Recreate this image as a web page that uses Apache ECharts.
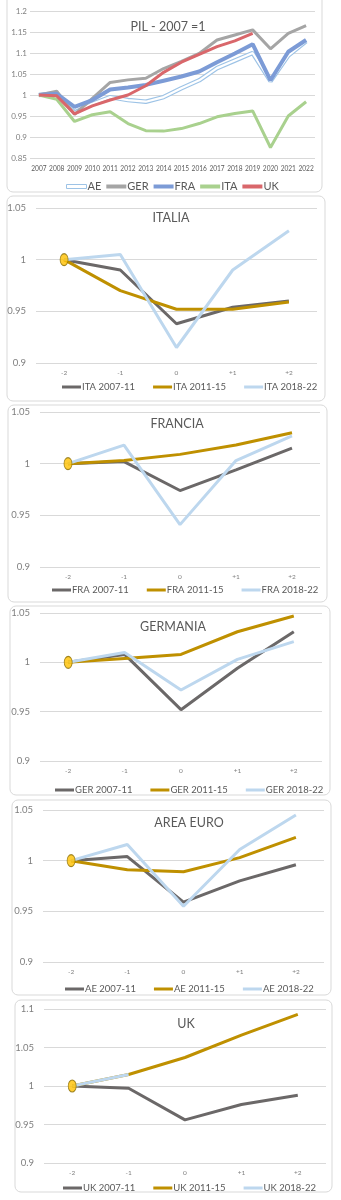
<!DOCTYPE html>
<html>
<head>
<meta charset="utf-8">
<title>PIL - 2007 = 1</title>
<script src="https://cdn.jsdelivr.net/npm/echarts@6/dist/echarts.min.js"></script>
<style>
  html, body { margin: 0; padding: 0; background: #ffffff; }
  #chart { width: 341px; height: 1200px; }
</style>
</head>
<body>
<div id="chart"></div>
<script>
// GDP index, 2007 = 1
const years = ['2007','2008','2009','2010','2011','2012','2013','2014','2015','2016','2017','2018','2019','2020','2021','2022'];
const pilAE  = [1, 1.004, 0.958, 0.979, 0.995, 0.988, 0.984, 0.995, 1.016, 1.035, 1.064, 1.082, 1.100, 1.033, 1.094, 1.128];
const pilGER = [1, 1.009, 0.954, 0.992, 1.030, 1.036, 1.040, 1.063, 1.080, 1.099, 1.131, 1.143, 1.155, 1.110, 1.147, 1.165];
const pilFRA = [1, 1.003, 0.972, 0.988, 1.013, 1.018, 1.024, 1.034, 1.044, 1.056, 1.078, 1.099, 1.121, 1.035, 1.103, 1.131];
const pilITA = [1, 0.990, 0.937, 0.953, 0.960, 0.932, 0.915, 0.914, 0.920, 0.932, 0.948, 0.956, 0.962, 0.875, 0.950, 0.984];
const pilUK  = [1, 0.998, 0.955, 0.974, 0.988, 1.000, 1.022, 1.054, 1.078, 1.097, 1.115, 1.129, 1.147, null, null, null];

// Crisis windows: two years before to two years after the trough year
const phases = ['-2', '-1', '0', '+1', '+2'];

const ita0711 = [1, 0.990, 0.938, 0.954, 0.960];
const ita1115 = [1, 0.970, 0.952, 0.952, 0.959];
const ita1822 = [1, 1.005, 0.915, 0.990, 1.028];

const fra0711 = [1, 1.002, 0.974, 0.994, 1.015];
const fra1115 = [1, 1.003, 1.009, 1.018, 1.030];
const fra1822 = [1, 1.018, 0.941, 1.003, 1.027];

const ger0711 = [1, 1.008, 0.952, 0.994, 1.031];
const ger1115 = [1, 1.004, 1.008, 1.031, 1.047];
const ger1822 = [1, 1.010, 0.972, 1.003, 1.021];

const ae0711 = [1, 1.004, 0.959, 0.980, 0.996];
const ae1115 = [1, 0.991, 0.989, 1.003, 1.023];
const ae1822 = [1, 1.016, 0.955, 1.011, 1.045];

const uk0711 = [1, 0.997, 0.956, 0.976, 0.988];
const uk1115 = [1, 1.015, 1.037, 1.066, 1.093];
const uk1822 = [1, 1.015, null, null, null];

const panelTitles = ['ITALIA', 'FRANCIA', 'GERMANIA', 'AREA EURO', 'UK'];
const panelCodes  = ['ITA', 'FRA', 'GER', 'AE', 'UK'];
const periods     = ['2007-11', '2011-15', '2018-22'];
const panelData = [
  [ita0711, ita1115, ita1822],
  [fra0711, fra1115, fra1822],
  [ger0711, ger1115, ger1822],
  [ae0711, ae1115, ae1822],
  [uk0711, uk1115, uk1822]
];
const panelMax = [1.05, 1.05, 1.05, 1.05, 1.1];

// ---- styling / layout ----
const FONT = 'Lato, "Open Sans", sans-serif';
const TXT = '#595959';
const LBL = '#7f7f7f';
const GRIDC = '#d9d9d9';
const periodColors = ['#6b6868', '#bf9000', '#bdd7ee'];

const panelLayout = [
  { card: [7, 196, 318, 205],  grid: { left: 36, right: 24, top: 208, height: 155 }, title: [166, 213],  legend: [57, 383] },
  { card: [8, 405, 319, 197],  grid: { left: 40, right: 21, top: 412, height: 155 }, title: [172, 419],  legend: [47, 586] },
  { card: [10, 606, 320, 189], grid: { left: 40, right: 19, top: 613, height: 148 }, title: [168, 622],  legend: [50, 786] },
  { card: [12, 800, 319, 195], grid: { left: 43, right: 17, top: 810, height: 152 }, title: [184, 818],  legend: [60, 985] },
  { card: [15, 1000, 317, 192],grid: { left: 44, right: 15, top: 1009, height: 154 }, title: [181, 1019], legend: [58, 1184] }
];

const fmt = v => String(+(+v).toFixed(2));

const graphic = [
  { type: 'rect', shape: { x: 7, y: -6, width: 315, height: 198, r: 6 },
    style: { fill: '#fff', stroke: GRIDC, lineWidth: 1 }, z: -10 }
];
panelLayout.forEach(p => {
  graphic.push({ type: 'rect', shape: { x: p.card[0], y: p.card[1], width: p.card[2], height: p.card[3], r: 6 },
    style: { fill: '#fff', stroke: GRIDC, lineWidth: 1 }, z: -10 });
});

const titles = [{
  text: 'PIL - 2007 =1', left: 163, top: 15, textAlign: 'center',
  textStyle: { fontFamily: FONT, fontSize: 12.5, fontWeight: 'normal', color: TXT }
}];
const legends = [{
  left: 61, top: 176, itemWidth: 20, itemHeight: 4, itemGap: 5, icon: 'rect',
  textStyle: { fontFamily: FONT, fontSize: 11, color: TXT, padding: [0, 0, 0, -4] },
  data: [
    { name: 'AE', itemStyle: { color: '#ffffff', borderColor: '#9dc3e6', borderWidth: 1 } },
    { name: 'GER', itemStyle: { color: '#a5a5a5' } },
    { name: 'FRA', itemStyle: { color: '#7c9bd6' } },
    { name: 'ITA', itemStyle: { color: '#a9d18e' } },
    { name: 'UK', itemStyle: { color: '#d9676b' } }
  ]
}];
const grids = [{ left: 30, right: 26, top: 11, height: 147 }];
const xAxes = [{
  gridIndex: 0, type: 'category', data: years, boundaryGap: true,
  axisLine: { show: false }, axisTick: { show: false },
  axisLabel: { interval: 0, fontFamily: FONT, fontSize: 6.6, color: TXT, margin: 7 }
}];
const yAxes = [{
  gridIndex: 0, type: 'value', min: 0.85, max: 1.2, interval: 0.05,
  axisLine: { show: false }, axisTick: { show: false },
  axisLabel: { fontFamily: FONT, fontSize: 8, color: LBL, margin: 3, formatter: fmt },
  splitLine: { lineStyle: { color: GRIDC, width: 1 } }
}];
const series = [
  { name: 'AE', type: 'line', xAxisIndex: 0, yAxisIndex: 0, data: pilAE, symbol: 'none',
    lineStyle: { color: '#9dc3e6', width: 4.5 }, itemStyle: { color: '#9dc3e6' } },
  { name: 'AE', type: 'line', xAxisIndex: 0, yAxisIndex: 0, data: pilAE, symbol: 'none',
    lineStyle: { color: '#ffffff', width: 2.2 }, itemStyle: { color: '#9dc3e6' } },
  { name: 'GER', type: 'line', xAxisIndex: 0, yAxisIndex: 0, data: pilGER, symbol: 'none',
    lineStyle: { color: '#a5a5a5', width: 3 }, itemStyle: { color: '#a5a5a5' } },
  { name: 'FRA', type: 'line', xAxisIndex: 0, yAxisIndex: 0, data: pilFRA, symbol: 'none',
    lineStyle: { color: '#7c9bd6', width: 4 }, itemStyle: { color: '#7c9bd6' } },
  { name: 'ITA', type: 'line', xAxisIndex: 0, yAxisIndex: 0, data: pilITA, symbol: 'none',
    lineStyle: { color: '#a9d18e', width: 3 }, itemStyle: { color: '#a9d18e' } },
  { name: 'UK', type: 'line', xAxisIndex: 0, yAxisIndex: 0, data: pilUK, symbol: 'none',
    lineStyle: { color: '#d9676b', width: 3 }, itemStyle: { color: '#d9676b' } }
];

panelLayout.forEach((p, i) => {
  const idx = i + 1;
  titles.push({
    text: panelTitles[i], left: p.title[0], top: p.title[1] - 7, textAlign: 'center',
    textStyle: { fontFamily: FONT, fontSize: 12.5, fontWeight: 'normal', color: TXT }
  });
  const names = periods.map(per => panelCodes[i] + ' ' + per);
  legends.push({
    left: p.legend[0], top: p.legend[1] - 6, itemWidth: 19, itemHeight: 3, itemGap: 18, icon: 'rect',
    textStyle: { fontFamily: FONT, fontSize: 9.5, color: TXT, padding: [0, 0, 0, -4] },
    data: names.map((n, k) => ({ name: n, itemStyle: { color: periodColors[k] } }))
  });
  grids.push(p.grid);
  xAxes.push({
    gridIndex: idx, type: 'category', data: phases, boundaryGap: true,
    axisLine: { show: false }, axisTick: { show: false },
    axisLabel: { interval: 0, fontFamily: FONT, fontSize: 6.5, color: LBL, margin: 6 }
  });
  yAxes.push({
    gridIndex: idx, type: 'value', min: 0.9, max: panelMax[i], interval: 0.05,
    axisLine: { show: false }, axisTick: { show: false },
    axisLabel: { fontFamily: FONT, fontSize: 9.5, color: LBL, margin: 10, formatter: fmt },
    splitLine: { lineStyle: { color: GRIDC, width: 1 } }
  });
  panelData[i].forEach((arr, k) => {
    series.push({
      name: names[k], type: 'line', xAxisIndex: idx, yAxisIndex: idx, data: arr, symbol: 'none',
      lineStyle: { color: periodColors[k], width: 3 }, itemStyle: { color: periodColors[k] }
    });
  });
  // base-year marker at the start of each window
  series.push({
    name: panelCodes[i] + ' base', type: 'scatter', xAxisIndex: idx, yAxisIndex: idx,
    data: [panelData[i][0][0]], symbol: 'circle', symbolSize: [8, 12], z: 5,
    itemStyle: { color: '#ffc000', borderColor: '#8a6d00', borderWidth: 1 }
  });
});

const chart = echarts.init(document.getElementById('chart'), null, { renderer: 'canvas' });
chart.setOption({
  animation: false,
  backgroundColor: '#ffffff',
  textStyle: { fontFamily: FONT },
  graphic: graphic,
  title: titles,
  legend: legends,
  grid: grids,
  xAxis: xAxes,
  yAxis: yAxes,
  series: series
});
</script>
</body>
</html>
